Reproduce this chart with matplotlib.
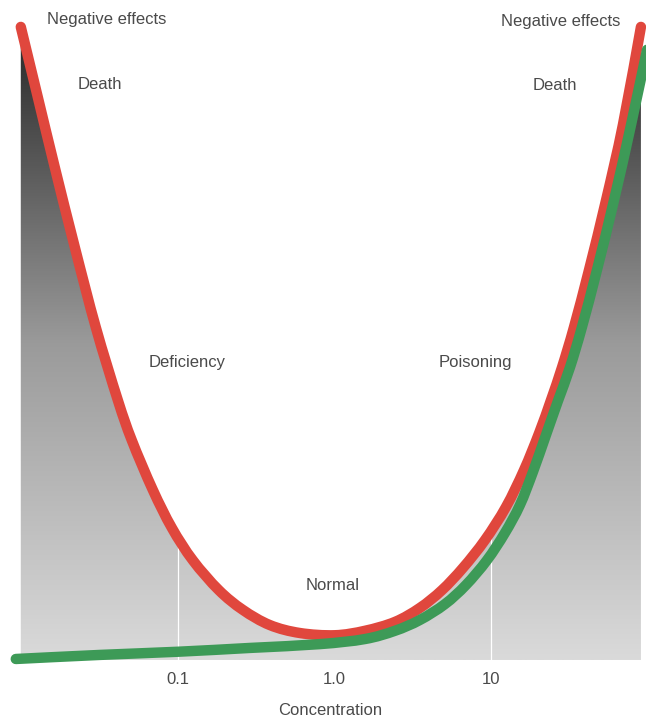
import numpy as np
import matplotlib
matplotlib.use('Agg')
import matplotlib.pyplot as plt
from matplotlib.colors import LinearSegmentedColormap
from matplotlib.patches import PathPatch
from matplotlib.path import Path

# log10(concentration) and effect (0 = none, 100 = death)
red_log = [-2.003, -1.895, -1.786, -1.658, -1.524, -1.383, -1.294, -1.160, -1.038,
           -0.904, -0.738, -0.585, -0.412, -0.220, 0.003, 0.195, 0.387, 0.546,
           0.687, 0.821, 0.962, 1.096, 1.211, 1.307, 1.383, 1.454, 1.530, 1.626,
           1.735, 1.843, 1.958]
red_val = [99.7, 88.7, 77.6, 65.0, 52.4, 40.9, 34.6, 26.8, 20.8,
           15.7, 11.0, 7.9, 5.5, 4.25, 3.9, 4.6, 6.0, 8.2,
           11.0, 14.5, 18.9, 24.1, 29.9, 35.7, 40.9, 46.1, 52.4, 61.4,
           72.4, 84.3, 99.7]

green_log = [-2.035, -1.498, -1.0, -0.540, -0.093, 0.195, 0.387, 0.546, 0.706,
             0.840, 0.974, 1.089, 1.185, 1.268, 1.351, 1.428, 1.505, 1.581,
             1.677, 1.786, 1.895, 1.997]
green_val = [0.16, 0.8, 1.3, 1.9, 2.5, 3.3, 4.6, 6.3, 8.8,
             11.8, 15.7, 20.0, 24.4, 29.6, 35.4, 40.8, 46.1, 52.4,
             61.4, 72.4, 84.3, 96.1]

# x axis is log10(concentration)
tick_pos = [-1, 0, 1]
tick_labels = ['0.1', '1.0', '10']
guide_pos = [-1, 1]

labels = ['Negative effects', 'Negative effects', 'Death', 'Death',
          'Deficiency', 'Poisoning', 'Normal']
label_log = [-1.454, 1.447, -1.498, 1.409, -0.942, 0.898, -0.01]
label_val = [100.8, 100.5, 90.7, 90.4, 46.9, 46.9, 11.8]

plt.rcParams['font.family'] = ['Liberation Sans', 'DejaVu Sans']
txt_col = '#4a4a4a'


def smooth_path(xs, ys, close_to=None):
    # smooth curve through the points (Catmull-Rom drawn as Bezier segments)
    pts = np.column_stack([xs, ys])
    n = len(pts)
    verts = [pts[0]]
    codes = [Path.MOVETO]
    for i in range(n - 1):
        p0 = pts[i - 1] if i > 0 else pts[i]
        p3 = pts[i + 2] if i + 2 < n else pts[i + 1]
        verts += [pts[i] + (pts[i + 1] - p0) / 6,
                  pts[i + 1] - (p3 - pts[i]) / 6,
                  pts[i + 1]]
        codes += [Path.CURVE4] * 3
    if close_to is not None:
        verts += [(pts[-1][0], close_to), (pts[0][0], close_to), pts[0]]
        codes += [Path.LINETO, Path.LINETO, Path.CLOSEPOLY]
    return Path(verts, codes)


fig = plt.figure(figsize=(6.46, 7.2), dpi=100)
ax = fig.add_axes([15 / 646, 60 / 720, 630 / 646, 635 / 720])
ax.set_xlim(-2.04, 1.984)
ax.set_ylim(0, 100)

# grey area under the red curve, shaded dark at the top
clip = PathPatch(smooth_path(red_log, red_val, close_to=0), transform=ax.transData,
                 facecolor='none', edgecolor='none')
ax.add_patch(clip)
cmap = LinearSegmentedColormap.from_list('shade', ['#dadada', '#9a9a9a', '#262626'])
grad = np.linspace(0, 1, 256).reshape(-1, 1)
im = ax.imshow(grad, cmap=cmap, aspect='auto', origin='lower',
               extent=[0, 1, 0, 1], transform=ax.transAxes, zorder=1)
im.set_clip_path(clip)

for v in guide_pos:
    ln = ax.axvline(v, color='white', lw=0.9, zorder=2)
    ln.set_clip_path(clip)

for xs, ys, col, z in [(red_log, red_val, '#e0473d', 3),
                       (green_log, green_val, '#3d9a57', 4)]:
    line = PathPatch(smooth_path(xs, ys), fill=False, edgecolor=col, lw=7.5,
                     capstyle='round', joinstyle='round', zorder=z,
                     transform=ax.transData, clip_on=False)
    ax.add_patch(line)

for t, lx, ly in zip(labels, label_log, label_val):
    ax.text(lx, ly, t, ha='center', va='center', fontsize=12, color=txt_col)

for s in ax.spines.values():
    s.set_visible(False)
ax.set_yticks([])
ax.set_xticks(tick_pos)
ax.set_xticklabels(tick_labels, fontsize=12, color=txt_col)
ax.tick_params(axis='x', length=0, pad=9)
ax.set_xlabel('Concentration', fontsize=12, color=txt_col, labelpad=11)

fig.savefig('out.png', dpi=100)
